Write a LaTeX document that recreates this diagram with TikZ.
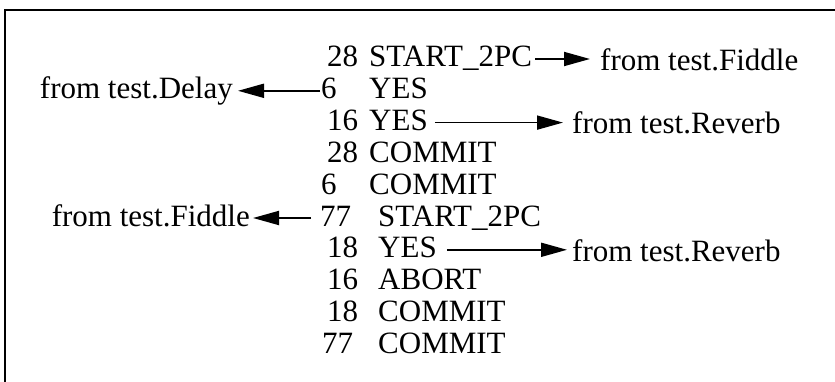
\documentclass[tikz,border=0pt]{standalone}
\usepackage{fontspec}
\setmainfont{Liberation Serif}
\usetikzlibrary{arrows.meta}
\begin{document}
\begin{tikzpicture}[x=1pt,y=-1pt,
  txt/.style={anchor=base west,inner sep=0pt,font=\fontsize{31}{36}\selectfont},
  ltxt/.style={anchor=base east,inner sep=0pt,font=\fontsize{31}{36}\selectfont},
  arr/.style={line width=1.8pt,-{Triangle[length=26pt,width=14pt]}},
  frame/.style={line width=1.5pt}]
\useasboundingbox (0,0) rectangle (835,382);
% frame (top and left sides)
\coordinate (fb) at (5,382);
\coordinate (fc) at (5,10);
\coordinate (fr) at (835,10);
\draw[frame] (fb) -- (fc) -- (fr);
% listing
\node[txt] (n1) at (327,67) {28};
\node[txt] (w1) at (369,67) {START\_2PC};
\node[txt] (n2) at (321,98.8) {6};
\node[txt] (w2) at (369,98.8) {YES};
\node[txt] (n3) at (327,130.6) {16};
\node[txt] (w3) at (369,130.6) {YES};
\node[txt] (n4) at (327,162.4) {28};
\node[txt] (w4) at (369,162.4) {COMMIT};
\node[txt] (n5) at (321,194.2) {6};
\node[txt] (w5) at (369,194.2) {COMMIT};
\node[txt] (n6) at (320,226) {77};
\node[txt] (w6) at (378,226) {START\_2PC};
\node[txt] (n7) at (327,257.8) {18};
\node[txt] (w7) at (378,257.8) {YES};
\node[txt] (n8) at (327,289.6) {16};
\node[txt] (w8) at (378,289.6) {ABORT};
\node[txt] (n9) at (327,321.4) {18};
\node[txt] (w9) at (378,321.4) {COMMIT};
\node[txt] (n10) at (322,353.2) {77};
\node[txt] (w10) at (378,353.2) {COMMIT};
% side labels
\node[txt] (r1) at (600,71) {from test.Fiddle};
\node[ltxt] (l2) at (233,98.8) {from test.Delay};
\node[txt] (r3) at (572,134) {from test.Reverb};
\node[ltxt] (l6) at (250,226) {from test.Fiddle};
\node[txt] (r7) at (572,261) {from test.Reverb};
% arrows
\draw[arr,shorten <=3pt,shorten >=10pt] ([yshift=8pt]w1.base east) -- ([yshift=8pt]w1.base east -| r1.west);
\draw[arr,shorten <=1pt,shorten >=5pt] ([yshift=8pt]n2.base west) -- ([yshift=8pt]n2.base west -| l2.east);
\draw[arr,shorten <=7pt,shorten >=9pt] ([yshift=8pt]w3.base east) -- ([yshift=8pt]w3.base east -| r3.west);
\draw[arr,shorten <=9pt,shorten >=3pt] ([yshift=8pt]n6.base west) -- ([yshift=8pt]n6.base west -| l6.east);
\draw[arr,shorten <=10pt,shorten >=5pt] ([yshift=8pt]w7.base east) -- ([yshift=8pt]w7.base east -| r7.west);
\end{tikzpicture}
\end{document}
